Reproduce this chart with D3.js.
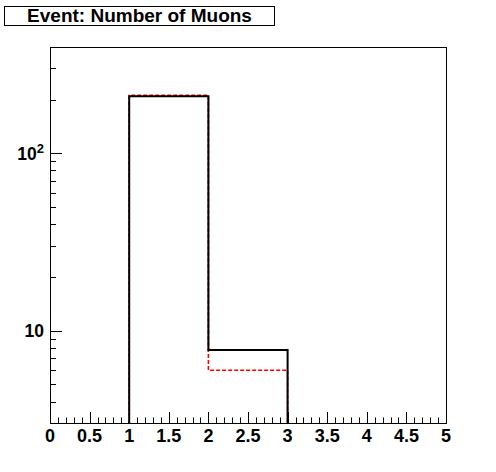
<!DOCTYPE html>
<html>
<head>
<meta charset="utf-8">
<script src="https://cdn.jsdelivr.net/npm/d3@7"></script>
<style>
body { margin: 0; background: #fff; }
svg text { font-family: "Liberation Sans", Arial, sans-serif; font-weight: bold; }
</style>
</head>
<body>
<div id="chart"></div>
<script>
// histogram data (bins of width 1 from 0 to 5)
var binEdges = [0, 1, 2, 3, 4, 5];
var blackCounts = [0, 209, 7.8, 0, 0];
var redCounts = [0, 212, 6.0, 0, 0];
var xTickValues = [0, 0.5, 1, 1.5, 2, 2.5, 3, 3.5, 4, 4.5, 5];
var yMajorTicks = [10, 100];
var titleText = "Event: Number of Muons";

var width = 496, height = 472;
var frame = {left: 50, right: 446, top: 47, bottom: 423};

var svg = d3.select("#chart")
  .append("svg")
  .attr("width", width)
  .attr("height", height);

var x = d3.scaleLinear().domain([0, 5]).range([frame.left, frame.right]);
var y = d3.scaleLog().domain([3.03, 396]).range([frame.bottom, frame.top]);

// clip for the histograms
svg.append("clipPath").attr("id", "frameClip")
  .append("rect")
  .attr("x", frame.left).attr("y", frame.top)
  .attr("width", frame.right - frame.left)
  .attr("height", frame.bottom - frame.top);

// build step points from bins, zeros go below the frame
function stepPoints(counts) {
  var pts = [];
  counts.forEach(function(c, i) {
    var v = c > 0 ? c : y.domain()[0] * 0.5;
    pts.push([binEdges[i], v]);
    pts.push([binEdges[i + 1], v]);
  });
  return pts;
}

var line = d3.line()
  .x(function(d) { return x(d[0]); })
  .y(function(d) { return Math.min(y(d[1]), frame.bottom + 5); });

var g = svg.append("g").attr("clip-path", "url(#frameClip)");

// red dashed one first, black on top
g.append("path")
  .attr("d", line(stepPoints(redCounts)))
  .attr("fill", "none")
  .attr("stroke", "#ff0000")
  .attr("stroke-width", 1.6)
  .attr("stroke-dasharray", "4,2");

g.append("path")
  .attr("d", line(stepPoints(blackCounts)))
  .attr("fill", "none")
  .attr("stroke", "#000")
  .attr("stroke-width", 2);

// frame
svg.append("rect")
  .attr("x", frame.left + 0.5).attr("y", frame.top + 0.5)
  .attr("width", frame.right - frame.left)
  .attr("height", frame.bottom - frame.top)
  .attr("fill", "none")
  .attr("stroke", "#000")
  .attr("stroke-width", 1);

// x ticks: major every 0.5, minor every 0.1 (drawn inside)
var xMinor = d3.range(0, 51).map(function(i) { return i / 10; });
svg.selectAll(".xtick")
  .data(xMinor)
  .enter()
  .append("line")
  .attr("x1", function(d) { return Math.round(x(d)) + 0.5; })
  .attr("x2", function(d) { return Math.round(x(d)) + 0.5; })
  .attr("y1", frame.bottom)
  .attr("y2", function(d, i) { return frame.bottom - (i % 5 == 0 ? 11 : 5.5); })
  .attr("stroke", "#000");

svg.selectAll(".xlabel")
  .data(xTickValues)
  .enter()
  .append("text")
  .attr("x", function(d) { return x(d); })
  .attr("y", 442)
  .attr("text-anchor", "middle")
  .style("font-size", "18px")
  .text(function(d) { return d; });

// y ticks (log): majors at decades, minors between
var yMinor = [];
[1, 10, 100].forEach(function(dec) {
  for (var k = 2; k <= 9; k++) {
    var v = k * dec;
    if (v >= y.domain()[0] && v <= y.domain()[1]) yMinor.push(v);
  }
});

svg.selectAll(".yminor")
  .data(yMinor)
  .enter()
  .append("line")
  .attr("x1", frame.left)
  .attr("x2", frame.left + 6)
  .attr("y1", function(d) { return Math.round(y(d)) + 0.5; })
  .attr("y2", function(d) { return Math.round(y(d)) + 0.5; })
  .attr("stroke", "#000");

svg.selectAll(".ymajor")
  .data(yMajorTicks)
  .enter()
  .append("line")
  .attr("x1", frame.left)
  .attr("x2", frame.left + 12)
  .attr("y1", function(d) { return Math.round(y(d)) + 0.5; })
  .attr("y2", function(d) { return Math.round(y(d)) + 0.5; })
  .attr("stroke", "#000");

// labels "10" and "10^2"
var ylab = svg.selectAll(".ylabel")
  .data(yMajorTicks)
  .enter()
  .append("text")
  .attr("x", frame.left - 6)
  .attr("y", function(d) { return y(d) + 6.5; })
  .attr("text-anchor", "end")
  .style("font-size", "17.5px");

ylab.each(function(d) {
  var p = Math.round(Math.log10(d));
  var t = d3.select(this);
  if (p == 1) {
    t.text("10");
  } else {
    t.append("tspan").text("10");
    t.append("tspan").attr("dy", -7).style("font-size", "13px").text(p);
  }
});

// title box
svg.append("rect")
  .attr("x", 4.5).attr("y", 6.5)
  .attr("width", 270).attr("height", 19)
  .attr("fill", "#fff")
  .attr("stroke", "#000");

svg.append("text")
  .attr("x", 139.5)
  .attr("y", 21.5)
  .attr("text-anchor", "middle")
  .style("font-size", "19px")
  .text(titleText);
</script>
</body>
</html>
